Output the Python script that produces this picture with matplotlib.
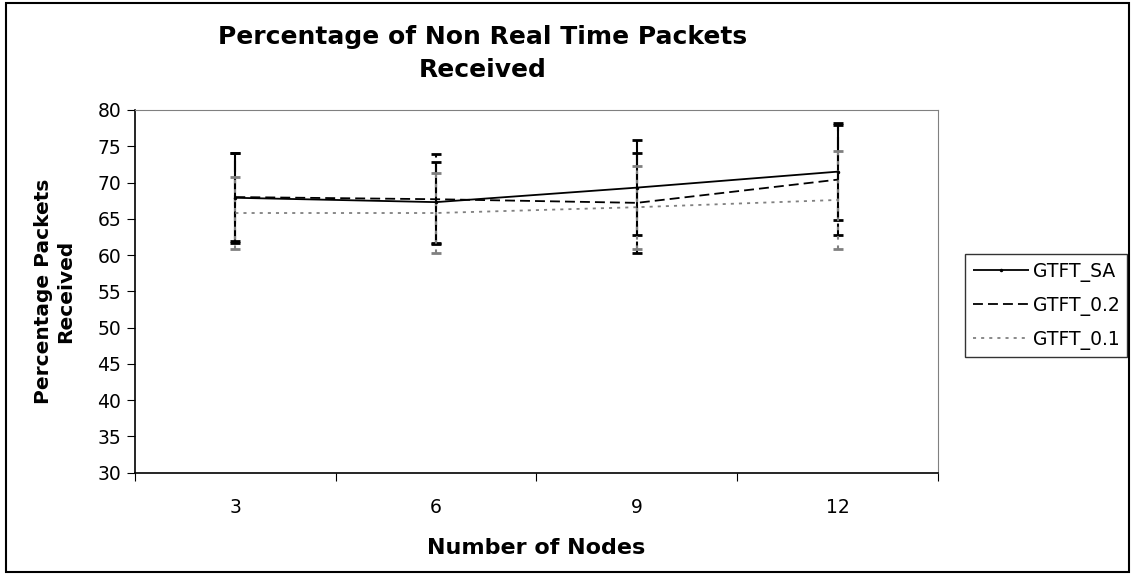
import matplotlib
matplotlib.use("Agg")
import matplotlib.pyplot as plt
from matplotlib.patches import Rectangle

nodes = ["3", "6", "9", "12"]
sa = [67.9, 67.3, 69.3, 71.5]
sa_err = [6.2, 5.6, 6.5, 6.7]
g02 = [68.0, 67.7, 67.2, 70.4]
g02_err = [6.1, 6.2, 6.9, 7.6]
g01 = [65.8, 65.8, 66.6, 67.6]
g01_err = [5.0, 5.5, 5.7, 6.8]

plt.rcParams['font.family'] = ['DejaVu Sans']

fig = plt.figure(figsize=(11.35, 5.75), dpi=100)
fig.patches.append(Rectangle((0.005, 0.006), 0.99, 0.988, transform=fig.transFigure,
                             fill=False, edgecolor='black', linewidth=1.5))
ax = fig.add_axes([0.1189, 0.1779, 0.8264 - 0.1189, 0.8087 - 0.1779])

x = [1, 2, 3, 4]
series = [
    ("GTFT_SA", sa, sa_err, 'black', (0, ())),
    ("GTFT_0.2", g02, g02_err, 'black', (0, (5.5, 2.8))),
    ("GTFT_0.1", g01, g01_err, '#808080', (0, (1.7, 2.8))),
]
for name, vals, errs, col, dash in series:
    marker = '.' if name == "GTFT_SA" else None
    ax.plot(x, vals, color=col, linestyle=dash, linewidth=1.3, label=name,
            marker=marker, markersize=3, zorder=3)
    eb = ax.errorbar(x, vals, yerr=errs, fmt='none', ecolor=col, elinewidth=1.5,
                     capsize=3.8, capthick=2, zorder=2)
    for lc in eb[2]:
        lc.set_linestyle(dash)

ax.set_xlim(0.5, 4.5)
ax.set_ylim(30, 80)
ax.set_yticks(range(30, 81, 5))
ax.set_xticks([0.5, 1.5, 2.5, 3.5, 4.5])
ax.set_xticklabels([])
ax.set_xticks(x, minor=True)
ax.set_xticklabels(nodes, minor=True)
ax.tick_params(axis='x', which='minor', length=0, labelsize=13.5, pad=18)
ax.tick_params(axis='x', which='major', length=6, direction='out', color='black')
ax.tick_params(axis='y', length=6, direction='out', labelsize=13.5, pad=4)

for s in ['top', 'right']:
    ax.spines[s].set_color('#808080')
for s in ['left', 'bottom']:
    ax.spines[s].set_color('black')
    ax.spines[s].set_linewidth(1.2)

ax.set_xlabel("Number of Nodes", fontsize=16, fontweight='bold', labelpad=15)
ax.set_ylabel("Percentage Packets\nReceived", fontsize=14.5, fontweight='bold', labelpad=16)
fig.text(0.425, 0.907, "Percentage of Non Real Time Packets\nReceived", ha='center',
         va='center', fontsize=18, fontweight='bold', linespacing=1.5)

leg = ax.legend(loc='center left', bbox_to_anchor=(1.034, 0.46), fontsize=13.5,
                frameon=True, fancybox=False, edgecolor='black', handlelength=3.0,
                borderpad=0.4, labelspacing=0.75, handletextpad=0.2, borderaxespad=0)
leg.get_frame().set_linewidth(1.0)

fig.savefig("out.png", dpi=100)
